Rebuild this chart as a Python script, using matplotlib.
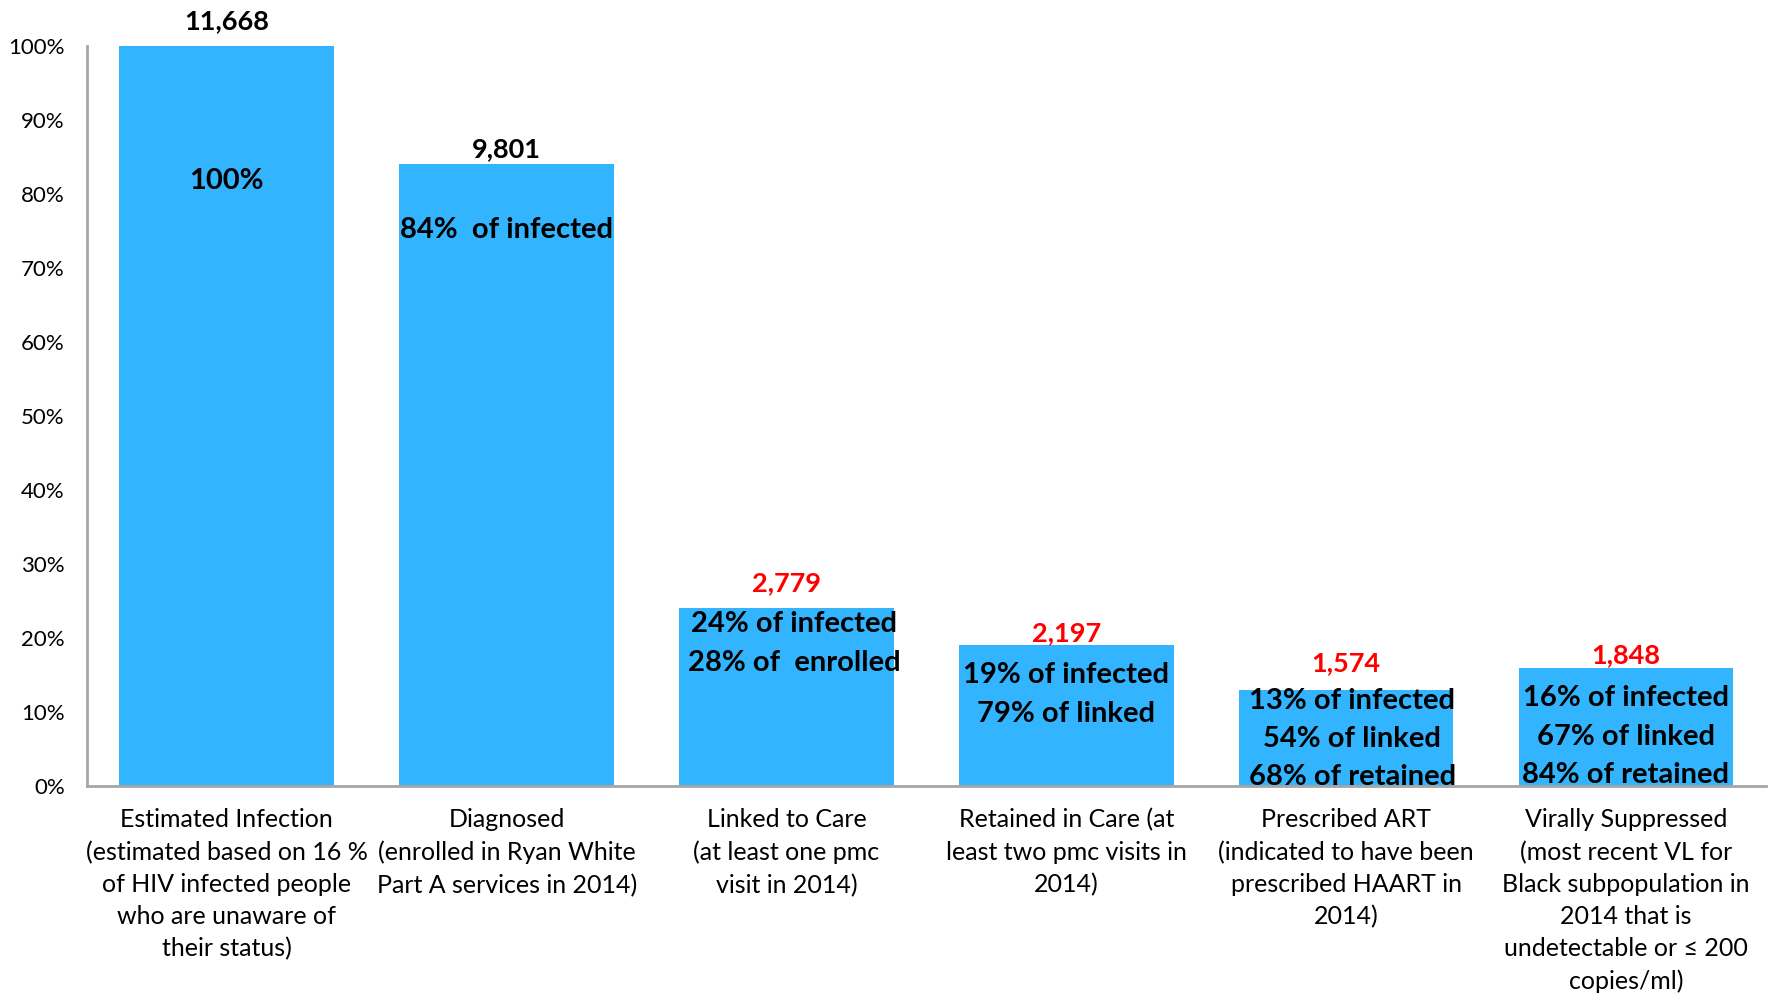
import matplotlib.pyplot as plt
from matplotlib.ticker import FuncFormatter

# HIV care continuum, Black subpopulation, 2014
stages = [
    "Estimated Infection\n(estimated based on 16 %\nof HIV infected people\nwho are unaware of\ntheir status)",
    "Diagnosed\n(enrolled in Ryan White\nPart A services in 2014)",
    "Linked to Care\n(at least one pmc\nvisit in 2014)",
    "Retained in Care (at\nleast two pmc visits in\n2014)",
    "Prescribed ART\n(indicated to have been\nprescribed HAART in\n2014)",
    "Virally Suppressed\n(most recent VL for\nBlack subpopulation in\n2014 that is\nundetectable or \u2264 200\ncopies/ml)",
]
percent = [100, 84, 24, 19, 13, 16]
counts = ["11,668", "9,801", "2,779", "2,197", "1,574", "1,848"]
inner_text = [
    "100%",
    "84%  of infected",
    "24% of infected\n28% of  enrolled",
    "19% of infected\n79% of linked",
    "13% of infected\n54% of linked\n68% of retained",
    "16% of infected\n67% of linked\n84% of retained",
]

plt.rcParams["font.family"] = ["Lato", "DejaVu Sans"]

fig = plt.figure(figsize=(17.73, 9.97), dpi=100)
ax = fig.add_axes([0.049, 0.2116, 0.947, 0.7423])

x = range(len(stages))
bars = ax.bar(x, percent, width=0.767, color="#33B4FF")

ax.set_xlim(-0.5, len(stages) - 0.5)
ax.set_ylim(0, 100)
ax.set_yticks(range(0, 101, 10))
ax.yaxis.set_major_formatter(FuncFormatter(lambda v, p: f"{v:.0f}%"))
ax.tick_params(axis="y", length=0, labelsize=16, pad=16)
ax.set_xticks(list(x))
ax.set_xticklabels(stages, fontsize=18, linespacing=1.48)
ax.tick_params(axis="x", length=0, pad=16)

for side in ("top", "right"):
    ax.spines[side].set_visible(False)
for side in ("left", "bottom"):
    ax.spines[side].set_color("#A6A6A6")
    ax.spines[side].set_linewidth(2)

# count labels above each bar (first two in black, the rest in red)
count_colors = ["black", "black", "red", "red", "red", "red"]
count_offsets = [25, 15, 25, 12, 27, 12]
# in-bar text, offset down from the bar top
inner_offsets = [-135, -66, -35, -49, -49, -69]
inner_dx = [0, 0, 8, 0, 6, 0]

for b, c, col, dy, txt, idy, idx in zip(bars, counts, count_colors, count_offsets,
                                        inner_text, inner_offsets, inner_dx):
    cx = b.get_x() + b.get_width() / 2
    top = b.get_height()
    ax.annotate(c, (cx, top), xytext=(0, dy), textcoords="offset pixels",
                ha="center", va="center", fontsize=19.5, fontweight="bold", color=col)
    ax.annotate(txt, (cx, top), xytext=(idx, idy), textcoords="offset pixels",
                ha="center", va="center", fontsize=21, fontweight="bold",
                color="black", linespacing=1.58)

fig.savefig("out.png", dpi=100)
